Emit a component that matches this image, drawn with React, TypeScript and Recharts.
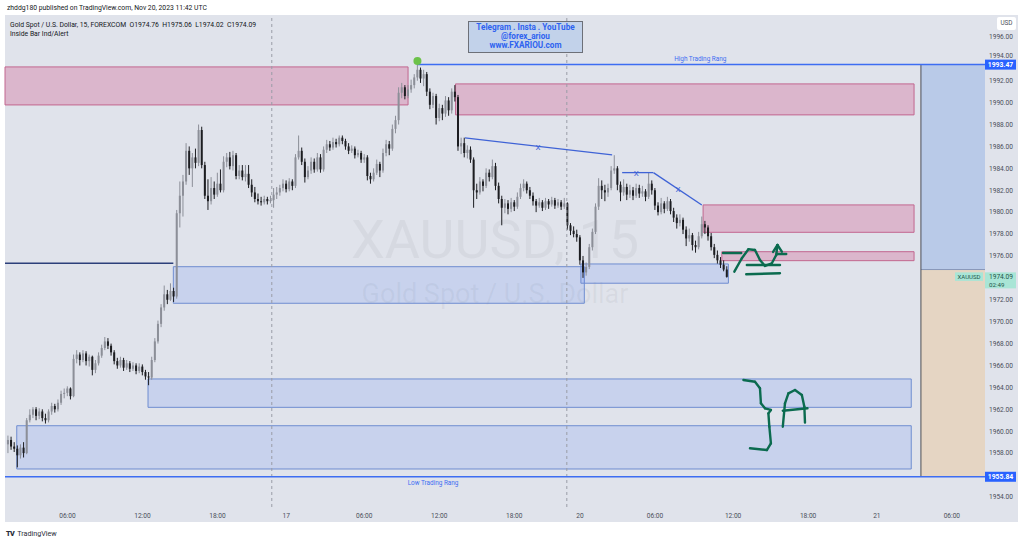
import React from "react";
import {
  ComposedChart,
  Bar,
  XAxis,
  YAxis,
  ReferenceArea,
  ReferenceLine,
  ReferenceDot,
} from "recharts";

// [open, high, low, close] per 15 min bar
type Ohlc = [number, number, number, number];

const nov16: Ohlc[] = [
  [1958.8, 1959.6, 1958.0, 1959.2], [1959.2, 1959.5, 1958.3, 1958.6], [1958.6, 1959.0, 1958.1, 1958.4], [1958.4, 1958.7, 1956.7, 1957.8],
  [1957.8, 1958.8, 1957.5, 1958.5], [1958.5, 1959.0, 1957.6, 1958.0], [1958.0, 1961.2, 1957.9, 1961.0], [1961.0, 1962.0, 1960.8, 1961.5],
  [1961.5, 1962.2, 1961.2, 1962.0], [1962.0, 1962.2, 1961.0, 1961.4], [1961.4, 1962.1, 1961.1, 1961.8], [1961.8, 1962.0, 1960.9, 1961.2],
  [1961.2, 1961.6, 1960.7, 1961.0], [1961.0, 1962.0, 1960.8, 1961.8], [1961.8, 1962.6, 1961.5, 1962.3], [1962.3, 1962.5, 1961.7, 1962.0],
  [1962.0, 1962.9, 1961.8, 1962.6], [1962.6, 1963.7, 1962.4, 1963.4], [1963.4, 1963.9, 1963.0, 1963.5], [1963.5, 1964.1, 1963.2, 1963.9],
  [1963.9, 1964.0, 1962.9, 1963.2], [1963.2, 1967.0, 1963.1, 1966.6], [1966.6, 1967.4, 1966.2, 1967.0], [1967.0, 1967.2, 1966.0, 1966.5],
  [1966.5, 1967.4, 1966.3, 1967.1], [1967.1, 1967.3, 1966.0, 1966.4], [1966.4, 1967.0, 1965.9, 1966.8], [1966.8, 1966.9, 1965.1, 1965.6],
  [1965.6, 1966.5, 1965.3, 1966.2], [1966.2, 1967.2, 1966.0, 1966.9], [1966.9, 1967.9, 1966.7, 1967.6], [1967.6, 1968.6, 1967.4, 1968.2],
  [1968.2, 1968.5, 1967.5, 1967.8], [1967.8, 1968.0, 1966.9, 1967.2], [1967.2, 1967.4, 1966.1, 1966.4], [1966.4, 1966.7, 1965.7, 1966.0],
  [1966.0, 1966.8, 1965.8, 1966.5], [1966.5, 1966.7, 1965.5, 1965.8], [1965.8, 1966.5, 1965.6, 1966.2], [1966.2, 1966.4, 1965.4, 1965.7],
  [1965.7, 1966.3, 1965.5, 1966.0], [1966.0, 1966.2, 1965.2, 1965.5], [1965.5, 1966.2, 1965.3, 1965.9], [1965.9, 1966.1, 1965.1, 1965.4],
  [1965.4, 1965.6, 1964.7, 1965.0], [1965.0, 1965.4, 1964.2, 1964.9], [1964.9, 1966.8, 1964.7, 1966.5], [1966.5, 1968.5, 1966.3, 1968.2],
  [1968.2, 1970.1, 1968.0, 1969.8], [1969.8, 1971.6, 1969.5, 1971.3], [1971.3, 1973.3, 1971.0, 1972.5], [1972.5, 1972.9, 1971.6, 1972.0],
  [1972.0, 1973.5, 1971.9, 1972.8], [1972.8, 1973.1, 1971.8, 1972.3], [1972.3, 1980.2, 1972.1, 1979.9], [1979.9, 1982.8, 1978.6, 1981.5],
  [1981.5, 1983.4, 1979.6, 1982.8], [1982.8, 1986.3, 1982.5, 1985.6], [1985.6, 1986.0, 1983.4, 1984.0], [1984.0, 1985.4, 1982.3, 1985.0],
  [1985.0, 1985.8, 1984.0, 1984.5], [1984.5, 1988.0, 1984.2, 1987.5], [1987.5, 1987.8, 1984.0, 1984.3], [1984.3, 1984.6, 1981.2, 1981.5],
  [1981.5, 1983.0, 1980.2, 1981.0], [1981.0, 1983.2, 1980.7, 1982.2], [1982.2, 1982.8, 1981.2, 1981.6], [1981.6, 1983.6, 1981.4, 1982.6],
  [1982.6, 1983.9, 1981.8, 1982.0], [1982.0, 1985.1, 1981.8, 1984.6], [1984.6, 1985.4, 1984.1, 1985.0], [1985.0, 1985.5, 1983.9, 1984.2],
  [1984.2, 1985.6, 1983.8, 1985.2], [1985.2, 1985.4, 1983.0, 1983.3], [1983.3, 1984.3, 1983.0, 1983.8], [1983.8, 1984.3, 1982.9, 1983.2],
  [1983.2, 1984.3, 1982.8, 1983.5], [1983.5, 1984.3, 1982.2, 1982.5], [1982.5, 1983.0, 1981.4, 1981.8], [1981.8, 1982.3, 1980.9, 1981.2],
  [1981.2, 1981.7, 1980.7, 1981.0], [1981.0, 1981.4, 1980.6, 1980.9], [1980.9, 1981.5, 1980.7, 1981.2], [1981.2, 1981.4, 1980.7, 1981.0],
  [1981.0, 1981.5, 1980.8, 1981.1], [1981.1, 1982.2, 1980.4, 1981.6], [1981.6, 1982.3, 1981.2, 1981.8],
];

const nov17: Ohlc[] = [
  [1981.8, 1982.5, 1981.5, 1982.2], [1982.2, 1983.0, 1981.9, 1982.6], [1982.6, 1982.9, 1981.8, 1982.1], [1982.1, 1983.1, 1981.9, 1982.8],
  [1982.8, 1983.0, 1982.0, 1982.4], [1982.4, 1985.3, 1982.2, 1985.0], [1985.0, 1987.0, 1984.8, 1985.6], [1985.6, 1985.9, 1984.3, 1984.6],
  [1984.6, 1984.9, 1982.7, 1983.2], [1983.2, 1984.2, 1983.0, 1983.8], [1983.8, 1985.0, 1983.5, 1984.6], [1984.6, 1984.9, 1983.6, 1983.9],
  [1983.9, 1985.4, 1983.7, 1985.0], [1985.0, 1985.3, 1983.6, 1983.9], [1983.9, 1986.0, 1983.7, 1985.7], [1985.7, 1986.6, 1985.4, 1986.2],
  [1986.2, 1986.5, 1985.6, 1985.9], [1985.9, 1986.8, 1985.7, 1986.4], [1986.4, 1986.7, 1985.9, 1986.2], [1986.2, 1987.0, 1986.0, 1986.8],
  [1986.8, 1987.0, 1986.2, 1986.5], [1986.5, 1986.7, 1985.7, 1986.0], [1986.0, 1986.3, 1985.3, 1985.6], [1985.6, 1986.1, 1985.4, 1985.8],
  [1985.8, 1986.0, 1984.9, 1985.2], [1985.2, 1985.7, 1985.0, 1985.4], [1985.4, 1985.6, 1984.5, 1984.8], [1984.8, 1985.3, 1984.5, 1985.0],
  [1985.0, 1985.2, 1982.9, 1983.3], [1983.3, 1983.6, 1982.6, 1983.0], [1983.0, 1984.0, 1982.8, 1983.6], [1983.6, 1984.8, 1983.4, 1984.4],
  [1984.4, 1984.6, 1983.2, 1983.8], [1983.8, 1985.8, 1983.6, 1985.4], [1985.4, 1986.6, 1985.1, 1986.2], [1986.2, 1986.5, 1985.2, 1985.8],
  [1985.8, 1988.0, 1985.6, 1987.6], [1987.6, 1988.8, 1987.2, 1988.4], [1988.4, 1991.4, 1988.0, 1990.9], [1990.9, 1991.8, 1990.4, 1991.4],
  [1991.4, 1991.6, 1990.3, 1990.6], [1990.6, 1991.6, 1990.4, 1991.2], [1991.2, 1992.1, 1990.9, 1991.6], [1991.6, 1992.6, 1991.3, 1992.3],
  [1992.3, 1993.6, 1992.0, 1993.0], [1993.0, 1993.2, 1991.8, 1992.2], [1992.2, 1993.0, 1991.5, 1992.6], [1992.6, 1992.8, 1990.6, 1991.0],
  [1991.0, 1991.3, 1989.4, 1989.8], [1989.8, 1990.9, 1989.5, 1990.6], [1990.6, 1990.8, 1988.0, 1988.6], [1988.6, 1989.9, 1988.3, 1989.5],
  [1989.5, 1989.8, 1988.4, 1989.0], [1989.0, 1990.6, 1988.7, 1990.2], [1990.2, 1990.5, 1988.8, 1989.3], [1989.3, 1991.3, 1989.0, 1991.0],
  [1991.0, 1991.6, 1990.1, 1990.5], [1990.5, 1990.7, 1985.6, 1986.0], [1986.0, 1986.8, 1985.3, 1986.3], [1986.3, 1986.8, 1985.0, 1985.4],
  [1985.4, 1986.1, 1984.9, 1985.7], [1985.7, 1986.0, 1984.5, 1984.8], [1984.8, 1985.0, 1980.4, 1982.0], [1982.0, 1982.6, 1981.2, 1981.8],
  [1981.8, 1983.2, 1981.6, 1982.8], [1982.8, 1983.0, 1981.9, 1982.4], [1982.4, 1984.0, 1982.2, 1983.6], [1983.6, 1983.9, 1982.8, 1983.2],
  [1983.2, 1984.8, 1983.0, 1984.2], [1984.2, 1984.5, 1982.0, 1982.4], [1982.4, 1982.7, 1980.8, 1981.2], [1981.2, 1981.5, 1978.8, 1980.4],
  [1980.4, 1981.2, 1979.9, 1980.8], [1980.8, 1981.1, 1979.8, 1980.3], [1980.3, 1981.3, 1980.0, 1980.9], [1980.9, 1981.1, 1980.1, 1980.5],
  [1980.5, 1981.8, 1980.3, 1981.4], [1981.4, 1982.6, 1981.2, 1982.2], [1982.2, 1983.0, 1981.9, 1982.6], [1982.6, 1982.8, 1981.7, 1982.0],
  [1982.0, 1982.3, 1981.2, 1981.5], [1981.5, 1981.8, 1980.6, 1981.0], [1981.0, 1981.2, 1980.0, 1980.6], [1980.6, 1981.3, 1980.4, 1980.9],
  [1980.9, 1981.1, 1980.1, 1980.4], [1980.4, 1981.3, 1980.2, 1981.0], [1981.0, 1981.2, 1980.3, 1980.7], [1980.7, 1981.4, 1980.5, 1981.1],
  [1981.1, 1981.3, 1980.3, 1980.6], [1980.6, 1981.2, 1980.4, 1980.9], [1980.9, 1981.1, 1980.2, 1980.5], [1980.5, 1981.3, 1980.3, 1980.8],
];

const nov20: Ohlc[] = [
  [1980.8, 1980.9, 1978.4, 1978.8], [1978.8, 1979.0, 1977.9, 1978.3], [1978.3, 1978.7, 1977.7, 1978.0], [1978.0, 1978.4, 1977.3, 1977.7],
  [1977.7, 1977.9, 1975.2, 1975.6], [1975.6, 1976.0, 1974.0, 1974.5], [1974.5, 1975.4, 1974.2, 1975.0], [1975.0, 1977.1, 1974.8, 1976.8],
  [1976.8, 1978.5, 1976.5, 1978.2], [1978.2, 1980.8, 1978.0, 1980.5], [1980.5, 1983.1, 1980.2, 1982.4], [1982.4, 1982.9, 1981.2, 1982.0],
  [1982.0, 1982.5, 1981.0, 1981.8], [1981.8, 1982.6, 1981.4, 1982.2], [1982.2, 1984.2, 1982.0, 1983.8], [1983.8, 1985.2, 1983.5, 1984.0],
  [1984.0, 1984.2, 1982.0, 1982.5], [1982.5, 1982.8, 1981.0, 1981.8], [1981.8, 1983.0, 1981.5, 1982.3], [1982.3, 1982.6, 1981.1, 1981.6],
  [1981.6, 1982.5, 1981.3, 1982.0], [1982.0, 1982.3, 1981.1, 1981.5], [1981.5, 1982.6, 1981.3, 1982.2], [1982.2, 1982.5, 1981.3, 1981.7],
  [1981.7, 1982.4, 1981.4, 1981.9], [1981.9, 1982.1, 1981.0, 1981.4], [1981.4, 1983.6, 1981.2, 1982.6], [1982.6, 1982.9, 1981.6, 1982.0],
  [1982.0, 1982.2, 1980.2, 1980.6], [1980.6, 1980.9, 1979.7, 1980.0], [1980.0, 1981.3, 1979.8, 1980.8], [1980.8, 1981.0, 1979.9, 1980.3],
  [1980.3, 1981.4, 1980.1, 1981.0], [1981.0, 1981.2, 1979.8, 1980.1], [1980.1, 1980.4, 1979.1, 1979.5], [1979.5, 1979.8, 1978.5, 1979.0],
  [1979.0, 1979.8, 1978.7, 1979.3], [1979.3, 1979.5, 1978.0, 1978.4], [1978.4, 1978.7, 1976.9, 1977.6], [1977.6, 1978.5, 1977.3, 1977.9],
  [1977.9, 1978.1, 1976.5, 1977.0], [1977.0, 1977.4, 1976.3, 1976.8], [1976.8, 1978.2, 1976.6, 1977.8], [1977.8, 1979.6, 1977.6, 1978.9],
  [1978.9, 1979.2, 1978.0, 1978.6], [1978.6, 1978.8, 1977.4, 1977.8], [1977.8, 1978.1, 1976.5, 1976.8], [1976.8, 1977.1, 1975.8, 1976.1],
  [1976.1, 1976.5, 1975.3, 1975.6], [1975.6, 1975.9, 1974.9, 1975.2], [1975.2, 1975.6, 1974.6, 1974.76], [1974.76, 1975.06, 1974.02, 1974.09],
];

// time axis: bar index -> label
const timeTicks = [19, 43, 67, 89, 114, 138, 162, 183, 207, 232, 256, 278, 302];
const timeLabels = ["06:00", "12:00", "18:00", "17", "06:00", "12:00", "18:00", "20", "06:00", "12:00", "18:00", "21", "06:00"];
const priceTicks = [1954, 1956, 1958, 1960, 1962, 1964, 1966, 1968, 1970, 1972, 1974, 1976, 1978, 1980, 1982, 1984, 1986, 1988, 1990, 1992, 1994, 1996];

// zones: [fromBar, toBar, low, high]
const supplyZones = [
  [-1, 128, 1989.79, 1993.26],
  [143.2, 289.9, 1988.88, 1991.71],
  [222.4, 289.9, 1978.16, 1980.66],
  [228.4, 289.9, 1975.57, 1976.39],
];
const demandZones = [
  [52.9, 184.4, 1971.68, 1975.02],
  [183.3, 230.5, 1973.51, 1975.27],
  [44.8, 289, 1962.18, 1964.77],
  [2.8, 289, 1956.55, 1960.5],
];

const highRange = 1993.47;
const lowRange = 1955.84;
const lastPrice = 1974.09;
const entryPrice = 1974.76;
const prevLevel = 1975.33;
const sessionBreaks = [84.4, 178.8];

// trend lines drawn by hand: [bar, price] pairs
const trendLines = [
  [[146.2, 1986.78], [193.3, 1985.22]],
  [[196.5, 1983.61], [206.4, 1983.61]],
  [[206.5, 1983.61], [222.0, 1980.66]],
];
const trendMarks = [[169.6, 1985.95], [201.0, 1983.58], [214.4, 1982.12]];

const greenStrokes = [
  [[228.8, 1976.27], [234.6, 1976.27]],
  [[232.4, 1974.57], [234.8, 1975.79], [236.9, 1976.61], [239.0, 1976.55], [240.6, 1975.63], [242.2, 1975.09], [244.4, 1975.33], [245.8, 1976.09], [246.2, 1977.0]],
  [[244.8, 1976.37], [246.2, 1977.0], [247.6, 1976.39]],
  [[246.0, 1976.18], [249.0, 1976.18]],
  [[236.4, 1975.18], [247.0, 1975.18]],
  [[236.2, 1974.33], [247.0, 1974.42]],
  [[235.3, 1964.68], [239.0, 1964.52], [240.6, 1963.92], [240.9, 1962.55], [242.2, 1962.09], [244.1, 1961.94], [243.3, 1961.63], [243.6, 1960.41], [244.1, 1958.89], [242.8, 1958.28], [237.4, 1958.44]],
  [[247.9, 1960.41], [248.6, 1962.55], [249.7, 1963.46], [251.8, 1963.76], [254.0, 1963.31], [254.8, 1962.24], [255.0, 1960.78]],
  [[247.9, 1961.87], [255.8, 1962.09]],
];

const candles = [...nov16, ...nov17, ...nov20].map(([o, h, l, c], i) => ({ i, o, h, l, c }));

const FONT = "Roboto, 'Noto Sans', sans-serif";
const BG = "#e0e3eb";
const UP = "#8c8f98";
const DOWN = "#1c1d21";
const BLUE = "#2962ff";
const GREEN = "#0b6b4f";

const Candle = (props: any) => {
  const { x, y, width, height, payload } = props;
  if (!payload || height == null) return null;
  const { o, h, l, c } = payload;
  const k = h > l ? height / (h - l) : 0;
  const cx = x + width / 2;
  const top = y + (h - Math.max(o, c)) * k;
  const bh = Math.max(1, Math.abs(o - c) * k);
  const col = c >= o ? UP : DOWN;
  return (
    <g>
      <line x1={cx} x2={cx} y1={y} y2={y + height} stroke={col} strokeWidth={1} />
      <rect x={cx - 1} y={top} width={2} height={bh} fill={col} />
    </g>
  );
};

const PriceTag = (props: any) => {
  const { viewBox, text } = props;
  const x = viewBox.x + viewBox.width;
  const y = viewBox.y;
  return (
    <g>
      <rect x={x} y={y - 5} width={31} height={10} fill={BLUE} />
      <text x={x + 15.5} y={y + 2.4} textAnchor="middle" fontSize={6.8} fontWeight={700} fill="#fff" fontFamily={FONT}>
        {text}
      </text>
    </g>
  );
};

const LastTag = (props: any) => {
  const { viewBox } = props;
  const x = viewBox.x + viewBox.width;
  const y = viewBox.y;
  return (
    <g fontFamily={FONT}>
      <rect x={x - 30} y={y - 4.5} width={28} height={8.5} fill="#a9e5d6" />
      <text x={x - 16} y={y + 2.2} textAnchor="middle" fontSize={6} fill="#24564a">XAUUSD</text>
      <rect x={x} y={y - 4.5} width={31} height={16} fill="#a9e5d6" />
      <text x={x + 4} y={y + 2.3} fontSize={6.6} fill="#24564a">{lastPrice.toFixed(2)}</text>
      <text x={x + 4} y={y + 10.3} fontSize={6.2} fill="#24564a">02:49</text>
    </g>
  );
};

// price labels hidden behind the tags are left out; the one half covered is nudged up
const PriceTick = ({ x, y, payload }: any) => {
  const v = Number(payload.value);
  if (Math.abs(v - lowRange) < 0.5 || Math.abs(v - lastPrice) < 0.5) return null;
  const dy = Math.abs(v - highRange) < 0.8 ? -3 : 0;
  return (
    <text x={x} y={y + 2.3 + dy} fontSize={6.6} fill="#4a4e5a" fontFamily={FONT}>
      {v.toFixed(2)}
    </text>
  );
};

const TimeTick = ({ x, y, payload }: any) => {
  const idx = timeTicks.indexOf(payload.value);
  return (
    <text x={x} y={y + 5} textAnchor="middle" fontSize={6.6} fill="#4a4e5a" fontFamily={FONT}>
      {idx >= 0 ? timeLabels[idx] : ""}
    </text>
  );
};

export default function App() {
  return (
    <div style={{ position: "absolute", left: 0, top: 0, width: 1024, height: 544, background: "#fff", overflow: "hidden", fontFamily: FONT }}>
      <div style={{ position: "absolute", left: 5, top: 15, width: 1013, height: 507, background: BG }} />
      <div style={{ position: "absolute", left: 320, top: 209, width: 350, textAlign: "center", fontSize: 54, color: "rgba(120,124,136,0.09)", lineHeight: "62px" }}>
        XAUUSD, 15
      </div>
      <div style={{ position: "absolute", left: 320, top: 278, width: 350, textAlign: "center", fontSize: 27, color: "rgba(120,124,136,0.09)", lineHeight: "32px" }}>
        Gold Spot / U.S. Dollar
      </div>

      <div style={{ position: "absolute", left: 0, top: 0 }}>
        <ComposedChart width={1024} height={544} data={candles} margin={{ top: 15, right: 6, bottom: 22, left: 5 }}>
          <XAxis
            dataKey="i"
            type="number"
            domain={[-0.96, 312.6]}
            allowDataOverflow
            ticks={timeTicks}
            interval={0}
            axisLine={false}
            tickLine={false}
            tickSize={0}
            tickMargin={6}
            height={15}
            tick={<TimeTick />}
          />
          <YAxis
            orientation="right"
            type="number"
            domain={[1953.08, 1998.0]}
            allowDataOverflow
            ticks={priceTicks}
            interval={0}
            axisLine={false}
            tickLine={false}
            tickSize={0}
            tickMargin={4}
            width={33}
            tick={<PriceTick />}
          />

          {sessionBreaks.map((b) => (
            <ReferenceLine key={`s${b}`} x={b} stroke="#9a9da6" strokeDasharray="3 3" strokeWidth={1} />
          ))}

          <ReferenceArea x1={292.1} x2={312.6} y1={entryPrice} y2={highRange} fill="#b9cae8" fillOpacity={1} stroke="none" />
          <ReferenceArea x1={292.1} x2={312.6} y1={lowRange} y2={entryPrice} fill="#e5d5c3" fillOpacity={1} stroke="none" />
          <ReferenceLine segment={[{ x: 292.1, y: entryPrice }, { x: 312.6, y: entryPrice }]} stroke="#8796b8" strokeWidth={1} />
          <ReferenceLine segment={[{ x: 292.1, y: lowRange }, { x: 292.1, y: highRange }]} stroke="#4d4f55" strokeWidth={1} />

          {supplyZones.map(([a, b, lo, hi], k) => (
            <ReferenceArea key={`sz${k}`} x1={Math.max(a, -0.96)} x2={b} y1={lo} y2={hi} fill="rgba(207,80,132,0.3)" fillOpacity={1} stroke="#c2668f" strokeWidth={1} />
          ))}
          {demandZones.map(([a, b, lo, hi], k) => (
            <ReferenceArea key={`dz${k}`} x1={a} x2={b} y1={lo} y2={hi} fill="rgba(41,98,255,0.13)" fillOpacity={1} stroke="#6f8dd0" strokeWidth={1} />
          ))}

          <ReferenceLine segment={[{ x: -0.96, y: prevLevel }, { x: 52.9, y: prevLevel }]} stroke="#2c3f7a" strokeWidth={1.5} />

          <Bar dataKey={(d: any) => [d.l, d.h]} shape={<Candle />} barSize={3} isAnimationActive={false} />

          <ReferenceLine segment={[{ x: 131, y: highRange }, { x: 312.6, y: highRange }]} stroke="#3d6df2" strokeWidth={1.5} />
          <ReferenceLine y={lowRange} stroke="#3d6df2" strokeWidth={1.5} />
          <ReferenceDot x={221.5} y={1994.05} r={0} label={{ value: "High Trading Rang", position: "center", fill: "#3d6df2", fontSize: 6.4, fontFamily: FONT }} />
          <ReferenceDot x={136} y={1955.32} r={0} label={{ value: "Low Trading Rang", position: "center", fill: "#3d6df2", fontSize: 6.4, fontFamily: FONT }} />
          <ReferenceDot x={131} y={1993.8} r={4} fill="#6cc24a" stroke="none" />

          {trendLines.map(([p, q], k) => (
            <ReferenceLine key={`t${k}`} segment={[{ x: p[0], y: p[1] }, { x: q[0], y: q[1] }]} stroke="#3f63d6" strokeWidth={1.3} />
          ))}
          {trendMarks.map(([b, p], k) => (
            <ReferenceDot key={`m${k}`} x={b} y={p} r={0} label={{ value: "X", position: "center", fill: "#3f63d6", fontSize: 8, fontFamily: FONT }} />
          ))}

          {greenStrokes.flatMap((pts, s) =>
            pts.slice(1).map((q, k) => (
              <ReferenceLine
                key={`g${s}-${k}`}
                segment={[{ x: pts[k][0], y: pts[k][1] }, { x: q[0], y: q[1] }]}
                stroke={GREEN}
                strokeWidth={2.4}
                strokeLinecap="round"
              />
            ))
          )}

          <ReferenceLine y={highRange} stroke="none" strokeOpacity={0} label={<PriceTag text={highRange.toFixed(2)} />} />
          <ReferenceLine y={lowRange} stroke="none" strokeOpacity={0} label={<PriceTag text={lowRange.toFixed(2)} />} />
          <ReferenceLine y={lastPrice} stroke="none" strokeOpacity={0} label={<LastTag />} />
        </ComposedChart>
      </div>

      <div style={{ position: "absolute", left: 7, top: 4, fontSize: 6.8, color: "#131722", whiteSpace: "nowrap" }}>
        zhddg180 published on TradingView.com, Nov 20, 2023 11:42 UTC
      </div>
      <div style={{ position: "absolute", left: 10, top: 21, fontSize: 6.8, color: "#131722", whiteSpace: "pre" }}>
        {"Gold Spot / U.S. Dollar, 15, FOREXCOM  O1974.76  H1975.06  L1974.02  C1974.09"}
      </div>
      <div style={{ position: "absolute", left: 10, top: 30, fontSize: 6.8, color: "#131722", whiteSpace: "nowrap" }}>
        Inside Bar Ind/Alert
      </div>

      <div
        style={{
          position: "absolute",
          left: 468,
          top: 21,
          width: 113,
          height: 29,
          background: "#c2d2ea",
          border: "1px solid #6d7078",
          color: "#2e62f0",
          fontWeight: 700,
          fontSize: 8.2,
          lineHeight: "9px",
          textAlign: "center",
          paddingTop: 1,
        }}
      >
        <div>Telegram . Insta . YouTube</div>
        <div>@forex_ariou</div>
        <div>www.FXARIOU.com</div>
      </div>

      <div style={{ position: "absolute", left: 997, top: 17, width: 19, height: 13, background: "#fff", borderRadius: 2, fontSize: 6.4, color: "#4a4e5a", textAlign: "center", lineHeight: "13px" }}>
        USD
      </div>

      <div style={{ position: "absolute", left: 6, top: 529, fontSize: 7.2, color: "#2a2e39", whiteSpace: "nowrap" }}>
        <span style={{ fontWeight: 900, letterSpacing: -0.6, marginRight: 3 }}>TV</span>TradingView
      </div>
    </div>
  );
}
